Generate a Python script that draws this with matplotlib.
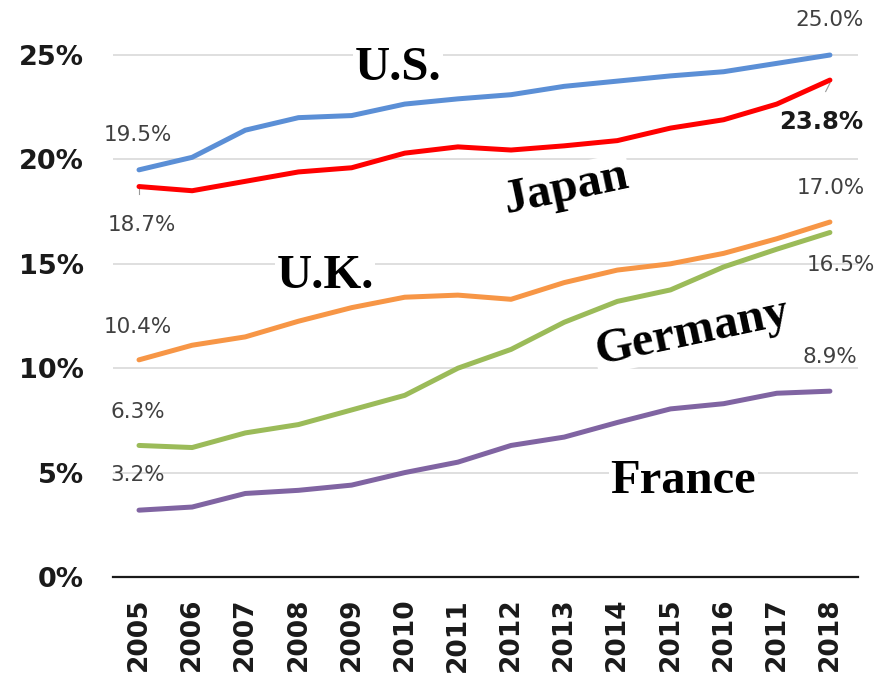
"""Share of population aged 65+ by country, 2005-2018."""

import matplotlib
matplotlib.use("Agg")
import matplotlib.pyplot as plt

years = list(range(2005, 2019))

us = [19.5, 20.1, 21.4, 22.0, 22.1, 22.65, 22.9, 23.1, 23.5, 23.75, 24.0, 24.2, 24.6, 25.0]
japan = [18.7, 18.5, 18.95, 19.4, 19.6, 20.3, 20.6, 20.45, 20.65, 20.9, 21.5, 21.9, 22.65, 23.8]
uk = [10.4, 11.1, 11.5, 12.25, 12.9, 13.4, 13.5, 13.3, 14.1, 14.7, 15.0, 15.5, 16.2, 17.0]
germany = [6.3, 6.2, 6.9, 7.3, 8.0, 8.7, 10.0, 10.9, 12.2, 13.2, 13.75, 14.85, 15.7, 16.5]
france = [3.2, 3.35, 4.0, 4.15, 4.4, 5.0, 5.5, 6.3, 6.7, 7.4, 8.05, 8.3, 8.8, 8.9]

yticks = [0, 5, 10, 15, 20, 25]
ytick_labels = ["0%", "5%", "10%", "15%", "20%", "25%"]

series = [
    ("U.S.", us, "#5b8fd6"),
    ("Japan", japan, "#ff0000"),
    ("U.K.", uk, "#f79646"),
    ("Germany", germany, "#9bbb59"),
    ("France", france, "#8064a2"),
]

fig = plt.figure(figsize=(8.86, 6.8), dpi=100)
ax = fig.add_axes([0.1275, 0.1515, 0.841, 0.829])

for name, vals, color in series:
    ax.plot(years, vals, color=color, linewidth=3.6, solid_capstyle="round",
            solid_joinstyle="round", zorder=3)

ax.set_xlim(2004.51, 2018.53)
ax.set_ylim(0, 27)
ax.set_yticks(yticks)
ax.set_yticklabels(ytick_labels, fontsize=19.5, fontweight="bold", color="#1a1a1a")
ax.set_xticks(years)
ax.set_xticklabels([str(y) for y in years], rotation=90, fontsize=19,
                   fontweight="bold", color="#1a1a1a")
ax.tick_params(axis="y", length=0, pad=21)
ax.tick_params(axis="x", length=0, pad=15)
for y in yticks[1:]:
    ax.axhline(y, color="#d9d9d9", linewidth=1.2, zorder=1)
for side in ["top", "right", "left"]:
    ax.spines[side].set_visible(False)
ax.spines["bottom"].set_linewidth(1.6)
ax.spines["bottom"].set_color("#1a1a1a")

# end-point value labels
lab = dict(fontsize=15.5, color="#404040", ha="center", va="center", zorder=5,
           textcoords="offset points")
ax.annotate(f"{us[0]:.1f}%", (years[0], us[0]), xytext=(-0.7, 25.2), **lab)
ax.annotate(f"{japan[0]:.1f}%", (years[0], japan[0]), xytext=(2.2, -27.7), **lab)
ax.annotate(f"{uk[0]:.1f}%", (years[0], uk[0]), xytext=(-0.7, 23.8), **lab)
ax.annotate(f"{germany[0]:.1f}%", (years[0], germany[0]), xytext=(-0.7, 24.1), **lab)
ax.annotate(f"{france[0]:.1f}%", (years[0], france[0]), xytext=(-0.7, 25.2), **lab)
ax.annotate(f"{us[-1]:.1f}%", (years[-1], us[-1]), xytext=(0, 25.2), **lab)
ax.annotate(f"{uk[-1]:.1f}%", (years[-1], uk[-1]), xytext=(0.7, 24.5), **lab)
ax.annotate(f"{germany[-1]:.1f}%", (years[-1], germany[-1]), xytext=(7.9, -23.4), **lab)
ax.annotate(f"{france[-1]:.1f}%", (years[-1], france[-1]), xytext=(0, 24.5), **lab)
ax.annotate(f"{japan[-1]:.1f}%", (years[-1], japan[-1]), xytext=(-6.5, -30.2),
            textcoords="offset points", fontsize=17.5, fontweight="bold", color="#1a1a1a",
            ha="center", va="center", zorder=5)
ax.plot([years[0], years[0]], [japan[0], japan[0] - 0.35], color="#999999", linewidth=0.8, zorder=2)
ax.plot([years[-1], years[-1] - 0.08], [japan[-1] - 0.15, japan[-1] - 0.55], color="#999999",
        linewidth=0.8, zorder=2)

# country names
box = dict(facecolor="white", edgecolor="none", pad=1)
name_font = dict(family="Liberation Serif", fontweight="bold", fontsize=35,
                 ha="center", va="center", zorder=2)
ax.text(2009.87, 24.4, "U.S.", bbox=box, **name_font)
ax.text(2008.5, 14.4, "U.K.", bbox=box, **name_font)
ax.text(2013.04, 18.6, "Japan", rotation=12, bbox=box, **name_font)
ax.text(2015.41, 11.75, "Germany", rotation=12, bbox=box, **name_font)
ax.text(2015.24, 4.6, "France", bbox=box, **name_font)

fig.savefig("out.png", dpi=100)
